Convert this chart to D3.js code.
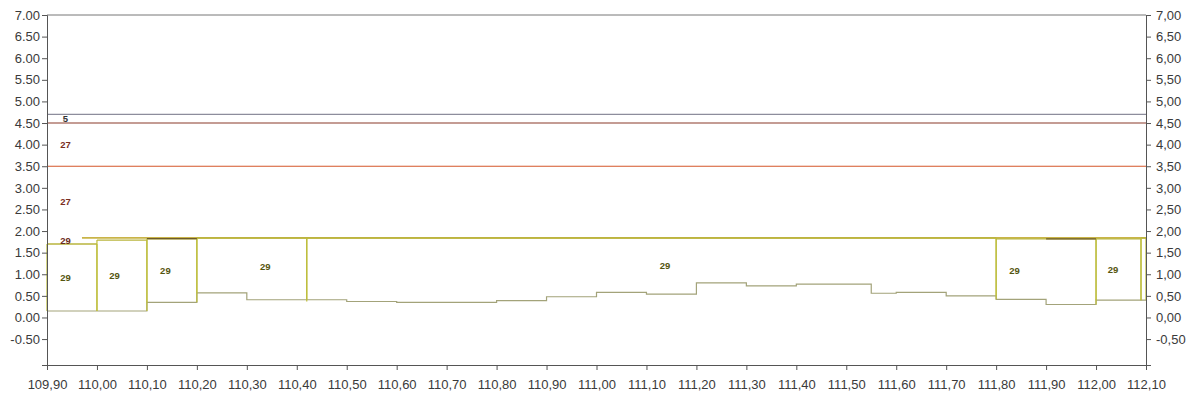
<!DOCTYPE html>
<html>
<head>
<meta charset="utf-8">
<script src="https://cdn.jsdelivr.net/npm/d3@7"></script>
<style>
  body { margin: 0; background: #fff; }
  svg { display: block; font-family: "Liberation Sans", Arial, sans-serif; }
</style>
</head>
<body>
<svg id="chart" width="1191" height="400"></svg>
<script>
// step line (bottom of the boxes): breakpoints and value per interval
const stepX = [109.90, 110.00, 110.10, 110.20, 110.30, 110.50, 110.60, 110.80, 110.90, 111.00,
  111.10, 111.20, 111.30, 111.40, 111.55, 111.60, 111.70, 111.80, 111.90, 112.00, 112.09, 112.10];
const stepVals = [0.15, 0.15, 0.35, 0.57, 0.41, 0.37, 0.35, 0.39, 0.48, 0.58,
  0.54, 0.80, 0.73, 0.77, 0.56, 0.58, 0.50, 0.42, 0.30, 0.40, 0.40];

// boxes (layer 29)
const boxStart = [109.90, 110.00, 110.10, 110.20, 110.42, 111.80, 112.00, 112.09];
const boxEnd   = [110.00, 110.10, 110.20, 110.42, 111.80, 112.00, 112.09, 112.10];
const boxTop   = [1.70, 1.79, 1.82, 1.84, 1.84, 1.82, 1.82, 1.84];
const boxLabel = ["29", "29", "29", "29", "29", "29", "29", ""];
const boxLabelX = [109.937, 110.035, 110.137, 110.337, 111.137, 111.837, 112.034, 112.095];

// horizontal layer lines
const levels = [4.70, 4.50, 3.50, 1.84];
const levelStart = [109.90, 109.90, 109.90, 109.97];
const levelColors = ["#8d8d9c", "#8a3b2b", "#d4562a", "#c9b448"];
const layerLabels = ["5", "27", "27", "29"];
const layerLabelColors = ["#333", "#7a2e1e", "#7a2e1e", "#6a2a1a"];
const layerLabelX = 109.937;

// darker top segments
const darkStart = [110.10, 111.90];
const darkEnd = [110.20, 112.00];
const darkVal = [1.825, 1.82];

const xTicks = d3.range(0, 23).map(i => +(109.9 + i * 0.1).toFixed(2));
const yTicks = d3.range(-1, 15).map(i => i * 0.5);

const svg = d3.select("#chart");
const m = { left: 47, right: 1146, top: 15, bottom: 365 };

const x = d3.scaleLinear().domain([109.90, 112.10]).range([m.left, m.right]);
const y = d3.scaleLinear().domain([-1.1, 7.0]).range([m.bottom, m.top]);

const axisColor = "#555";
const textColor = "#3a3a3a";

// frame top line
svg.append("line")
  .attr("x1", m.left).attr("x2", m.right).attr("y1", m.top).attr("y2", m.top)
  .attr("stroke", "#777").attr("stroke-width", 1);

// layer lines
levels.forEach((v, i) => {
  svg.append("line")
    .attr("x1", x(levelStart[i])).attr("x2", x(112.10))
    .attr("y1", y(v)).attr("y2", y(v))
    .attr("stroke", levelColors[i])
    .attr("stroke-width", i === 3 ? 1.8 : 1.2);
});

// thin orange line along the left edge
svg.append("line")
  .attr("x1", m.left + 0.5).attr("x2", m.left + 0.5)
  .attr("y1", y(4.50)).attr("y2", y(1.70))
  .attr("stroke", "#e0903a").attr("stroke-width", 1);

// step line
const stepPts = [];
stepVals.forEach((v, i) => {
  stepPts.push([stepX[i], v]);
  stepPts.push([stepX[i + 1], v]);
});
svg.append("path")
  .datum(stepPts)
  .attr("fill", "none")
  .attr("stroke", "#a3a37a")
  .attr("stroke-width", 1.2)
  .attr("d", d3.line().x(d => x(d[0])).y(d => y(d[1])));

// boxes
const inBox = (s, e) => stepVals.filter((v, k) => stepX[k] >= s - 1e-9 && stepX[k] < e - 1e-9);
boxStart.forEach((s, i) => {
  const e = boxEnd[i];
  const vals = inBox(s, e);
  const loStart = vals[0];
  const loEnd = vals[vals.length - 1];
  const g = svg.append("g");
  g.append("line")
    .attr("x1", x(s)).attr("x2", x(e)).attr("y1", y(boxTop[i])).attr("y2", y(boxTop[i]))
    .attr("stroke", "#b8b43c").attr("stroke-width", 1.4);
  g.append("line")
    .attr("x1", x(s)).attr("x2", x(s)).attr("y1", y(boxTop[i])).attr("y2", y(loStart))
    .attr("stroke", "#bdbd3a").attr("stroke-width", 1.2);
  g.append("line")
    .attr("x1", x(e)).attr("x2", x(e)).attr("y1", y(boxTop[i])).attr("y2", y(loEnd))
    .attr("stroke", "#bdbd3a").attr("stroke-width", 1.2);
  if (boxLabel[i]) {
    g.append("text")
      .attr("x", x(boxLabelX[i])).attr("y", y((boxTop[i] + d3.mean(vals)) / 2))
      .attr("dy", "0.35em")
      .attr("text-anchor", "middle")
      .attr("font-size", 9.5).attr("font-weight", "bold")
      .attr("fill", "#55550e")
      .text(boxLabel[i]);
  }
});

darkStart.forEach((s, i) => {
  svg.append("line")
    .attr("x1", x(s)).attr("x2", x(darkEnd[i])).attr("y1", y(darkVal[i])).attr("y2", y(darkVal[i]))
    .attr("stroke", "#6e5a2a").attr("stroke-width", 1.4);
});

// layer labels between consecutive levels
layerLabels.forEach((t, i) => {
  const lower = i < levels.length - 1 ? levels[i + 1] : boxTop[0];
  svg.append("text")
    .attr("x", x(layerLabelX)).attr("y", y((levels[i] + lower) / 2))
    .attr("dy", "0.35em")
    .attr("text-anchor", "middle")
    .attr("font-size", 9.5).attr("font-weight", "bold")
    .attr("fill", layerLabelColors[i])
    .text(t);
});

// axes
const fmtDot = d => d.toFixed(2);
const fmtComma = d => d.toFixed(2).replace(".", ",");

const yl = svg.append("g").attr("transform", `translate(${m.left},0)`)
  .call(d3.axisLeft(y).tickValues(yTicks).tickSize(5).tickPadding(2).tickFormat(fmtDot));
const yr = svg.append("g").attr("transform", `translate(${m.right},0)`)
  .call(d3.axisRight(y).tickValues(yTicks).tickSize(5).tickPadding(5).tickFormat(fmtComma));
const xa = svg.append("g").attr("transform", `translate(0,${m.bottom})`)
  .call(d3.axisBottom(x).tickValues(xTicks).tickSize(5).tickPadding(10).tickFormat(fmtComma));

[yl, yr, xa].forEach(a => {
  a.select(".domain").attr("stroke", axisColor);
  a.selectAll(".tick line").attr("stroke", axisColor);
  a.selectAll("text").attr("fill", textColor).attr("font-size", 13)
    .attr("font-family", "'Liberation Sans', Arial, sans-serif");
});
</script>
</body>
</html>
